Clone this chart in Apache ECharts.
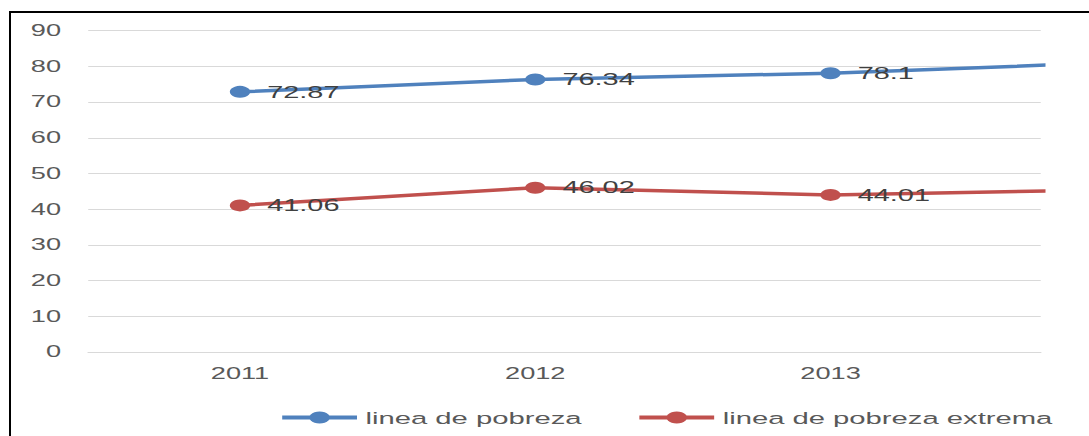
<!DOCTYPE html>
<html><head><meta charset="utf-8">
<script src="https://cdn.jsdelivr.net/npm/echarts@6/dist/echarts.min.js"></script>
<style>
html,body{margin:0;padding:0;background:#fff;overflow:hidden;width:1089px;height:436px;}
#frame{position:absolute;left:9px;top:11px;width:1100px;height:440px;border-left:2px solid #000;border-top:2px solid #000;}
#chart{position:absolute;left:0;top:0;width:640.6px;height:436px;transform:scaleX(1.7);transform-origin:0 0;}
</style></head>
<body><div id="frame"></div><div id="chart"></div>
<script>
// Data
const years = [2011, 2012, 2013, 2014];
const xTickLabels = [2011, 2012, 2013];
const pobreza = [72.87, 76.34, 78.1, 81.2];
const pobrezaExtrema = [41.06, 46.02, 44.01, 45.5];
const seriesNames = ['linea de pobreza', 'linea de pobreza extrema'];
const seriesColors = ['#4F81BD', '#C0504D'];
const yMin = 0, yMax = 90, yStep = 10;

const FONT = '"Liberation Sans", Arial, sans-serif';
function pairs(vals) { return years.map((y, i) => [y, vals[i]]); }
function makeSeries(name, vals, color) {
  return {
    name: name,
    type: 'line',
    data: pairs(vals),
    clip: true,
    symbol: 'circle',
    symbolSize: 12,
    showAllSymbol: true,
    lineStyle: { color: color, width: 3.5 },
    itemStyle: { color: color },
    label: {
      show: true, position: 'right', distance: 10,
      color: '#404040', fontSize: 17, fontFamily: FONT,
      formatter: p => String(p.value[1])
    },
    emphasis: { disabled: true },
    animation: false
  };
}

const chart = echarts.init(document.getElementById('chart'), null, { renderer: 'svg' });
chart.setOption({
  backgroundColor: 'transparent',
  animation: false,
  grid: { left: 51.9, right: 28.8, top: 30.7, bottom: 84, containLabel: false },
  legend: {
    data: seriesNames,
    left: 159, top: 404,
    itemWidth: 44, itemHeight: 15, itemGap: 32,
    lineStyle: { width: 4 },
    textStyle: { color: '#595959', fontSize: 17.2, fontFamily: FONT }
  },
  xAxis: {
    type: 'value',
    min: 2010.486, max: 2013.712,
    splitLine: { show: false },
    axisTick: { show: false },
    axisLine: { show: true, lineStyle: { color: '#d9d9d9', width: 1 } },
    axisLabel: {
      customValues: xTickLabels,
      formatter: v => String(v),
      color: '#595959', fontSize: 16, fontFamily: FONT, margin: 14
    }
  },
  yAxis: {
    type: 'value',
    min: yMin, max: yMax, interval: yStep,
    axisLine: { show: false },
    axisTick: { show: false },
    splitLine: { lineStyle: { color: '#d9d9d9', width: 1 } },
    axisLabel: { color: '#595959', fontSize: 16, fontFamily: FONT, margin: 16 }
  },
  series: [
    makeSeries(seriesNames[0], pobreza, seriesColors[0]),
    makeSeries(seriesNames[1], pobrezaExtrema, seriesColors[1])
  ]
});
</script>
</body></html>
